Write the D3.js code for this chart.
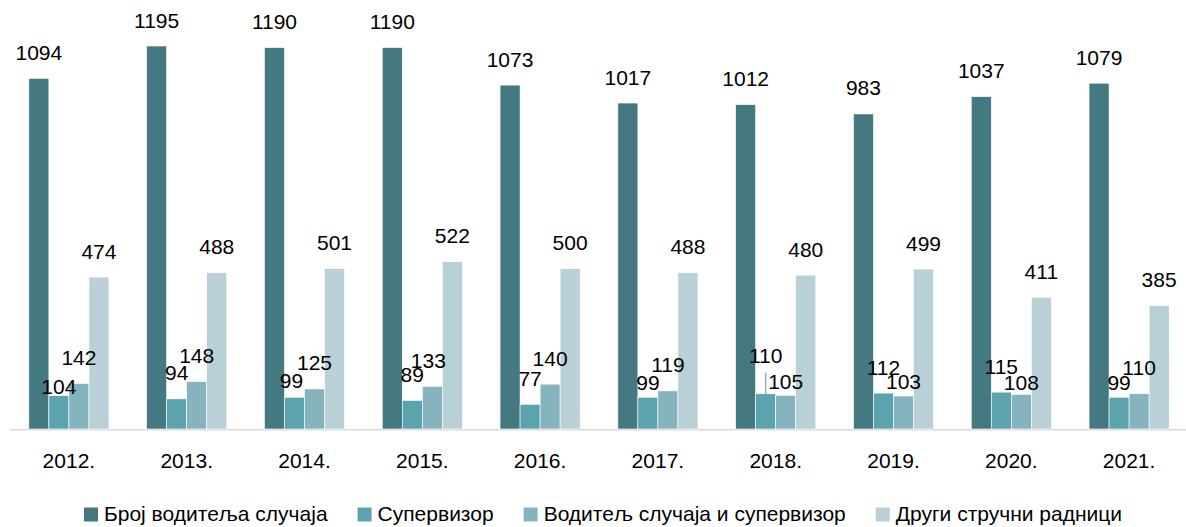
<!DOCTYPE html>
<html>
<head>
<meta charset="utf-8">
<script src="https://cdn.jsdelivr.net/npm/d3@7"></script>
<style>
  html, body { margin: 0; padding: 0; background: #fff; }
  svg { display: block; }
  text { font-family: "Liberation Sans", Arial, sans-serif; fill: #000; }
</style>
</head>
<body>
<svg id="chart" width="1186" height="527"></svg>
<script>
// ---- data ----
const years = ["2012.", "2013.", "2014.", "2015.", "2016.", "2017.", "2018.", "2019.", "2020.", "2021."];
const seriesNames = ["Број водитеља случаја", "Супервизор", "Водитељ случаја и супервизор", "Други стручни радници"];
const caseManagers = [1094, 1195, 1190, 1190, 1073, 1017, 1012, 983, 1037, 1079];
const supervisors = [104, 94, 99, 89, 77, 99, 110, 112, 115, 99];
const managerSupervisors = [142, 148, 125, 133, 140, 119, 105, 103, 108, 110];
const otherStaff = [474, 488, 501, 522, 500, 488, 480, 499, 411, 385];
const seriesColors = ["#447982", "#5BA3AD", "#85B4BE", "#B8D0D6"];

// ---- layout ----
const svg = d3.select("#chart");
const baseY = 429;
const allSeries = [caseManagers, supervisors, managerSupervisors, otherStaff];

const x0 = d3.scaleBand().domain(years).range([10, 1188]).paddingInner(0.32).paddingOuter(0.16);
const x1 = d3.scaleBand().domain(d3.range(4)).range([0, x0.bandwidth()]);
const y = d3.scaleLinear().domain([0, 1200]).range([baseY, baseY - 1200 * 0.3205]);

// label nudges (Excel-style collision adjustments), keyed "series-index"
const labelNudge = {
  "1-0": {dx: 0, dy: 17},
  "1-2": {dx: -3, dy: 9},
  "2-3": {dx: -4, dy: 0},
  "1-5": {dx: 0, dy: 11},
  "1-6": {dx: 0, dy: -12, leader: true},
  "2-6": {dx: 0, dy: 12},
  "2-7": {dx: 0, dy: 12},
  "2-8": {dx: 0, dy: 14},
  "1-9": {dx: 0, dy: 11}
};

const rows = [];
years.forEach((yr, i) => {
  allSeries.forEach((arr, s) => rows.push({yr, i, s, v: arr[i]}));
});

// axis line
svg.append("line")
  .attr("x1", 10).attr("x2", 1186)
  .attr("y1", baseY + 0.8).attr("y2", baseY + 0.8)
  .attr("stroke", "#D9D9D9").attr("stroke-width", 1.6);

// bars
svg.append("g").selectAll("rect").data(rows).join("rect")
  .attr("x", d => x0(d.yr) + x1(d.s))
  .attr("width", x1.bandwidth())
  .attr("y", d => y(d.v))
  .attr("height", d => baseY - y(d.v))
  .attr("fill", d => seriesColors[d.s])
  .attr("stroke", "#fff").attr("stroke-width", 0.6);

// leader lines
rows.filter(d => labelNudge[d.s + "-" + d.i] && labelNudge[d.s + "-" + d.i].leader).forEach(d => {
  const cx = x0(d.yr) + x1(d.s) + x1.bandwidth() / 2;
  svg.append("line")
    .attr("x1", cx).attr("x2", cx)
    .attr("y1", y(d.v) - 21).attr("y2", y(d.v))
    .attr("stroke", "#A6A6A6").attr("stroke-width", 1.5);
});

// value labels
svg.append("g").selectAll("text").data(rows).join("text")
  .attr("x", d => x0(d.yr) + x1(d.s) + x1.bandwidth() / 2 + ((labelNudge[d.s + "-" + d.i] || {}).dx || 0))
  .attr("y", d => y(d.v) - 18.5 + ((labelNudge[d.s + "-" + d.i] || {}).dy || 0))
  .attr("text-anchor", "middle")
  .attr("font-size", 21)
  .text(d => d.v);

// x axis labels
const xAxis = d3.axisBottom(x0).tickSize(0).tickPadding(0);
const gx = svg.append("g").attr("transform", `translate(0,${baseY})`).call(xAxis);
gx.select(".domain").remove();
gx.selectAll("text")
  .attr("font-size", 21)
  .attr("font-family", "Liberation Sans, Arial, sans-serif")
  .attr("fill", "#000")
  .attr("y", 39)
  .attr("dy", 0);

// legend
const legend = svg.append("g");
const items = legend.selectAll("g").data(seriesNames).join("g");
items.append("rect").attr("width", 14).attr("height", 14).attr("y", -13.5).attr("fill", (d, i) => seriesColors[i]);
items.append("text").attr("x", 20).attr("y", 0).attr("font-size", 21).text(d => d);
const gap = 30;
let cursor = 0;
const positions = [];
items.each(function() {
  positions.push(cursor);
  const w = 20 + d3.select(this).select("text").node().getComputedTextLength();
  cursor += w + gap;
});
const total = cursor - gap;
const startX = 603 - total / 2;
items.attr("transform", (d, i) => `translate(${startX + positions[i]},521)`);
</script>
</body>
</html>
